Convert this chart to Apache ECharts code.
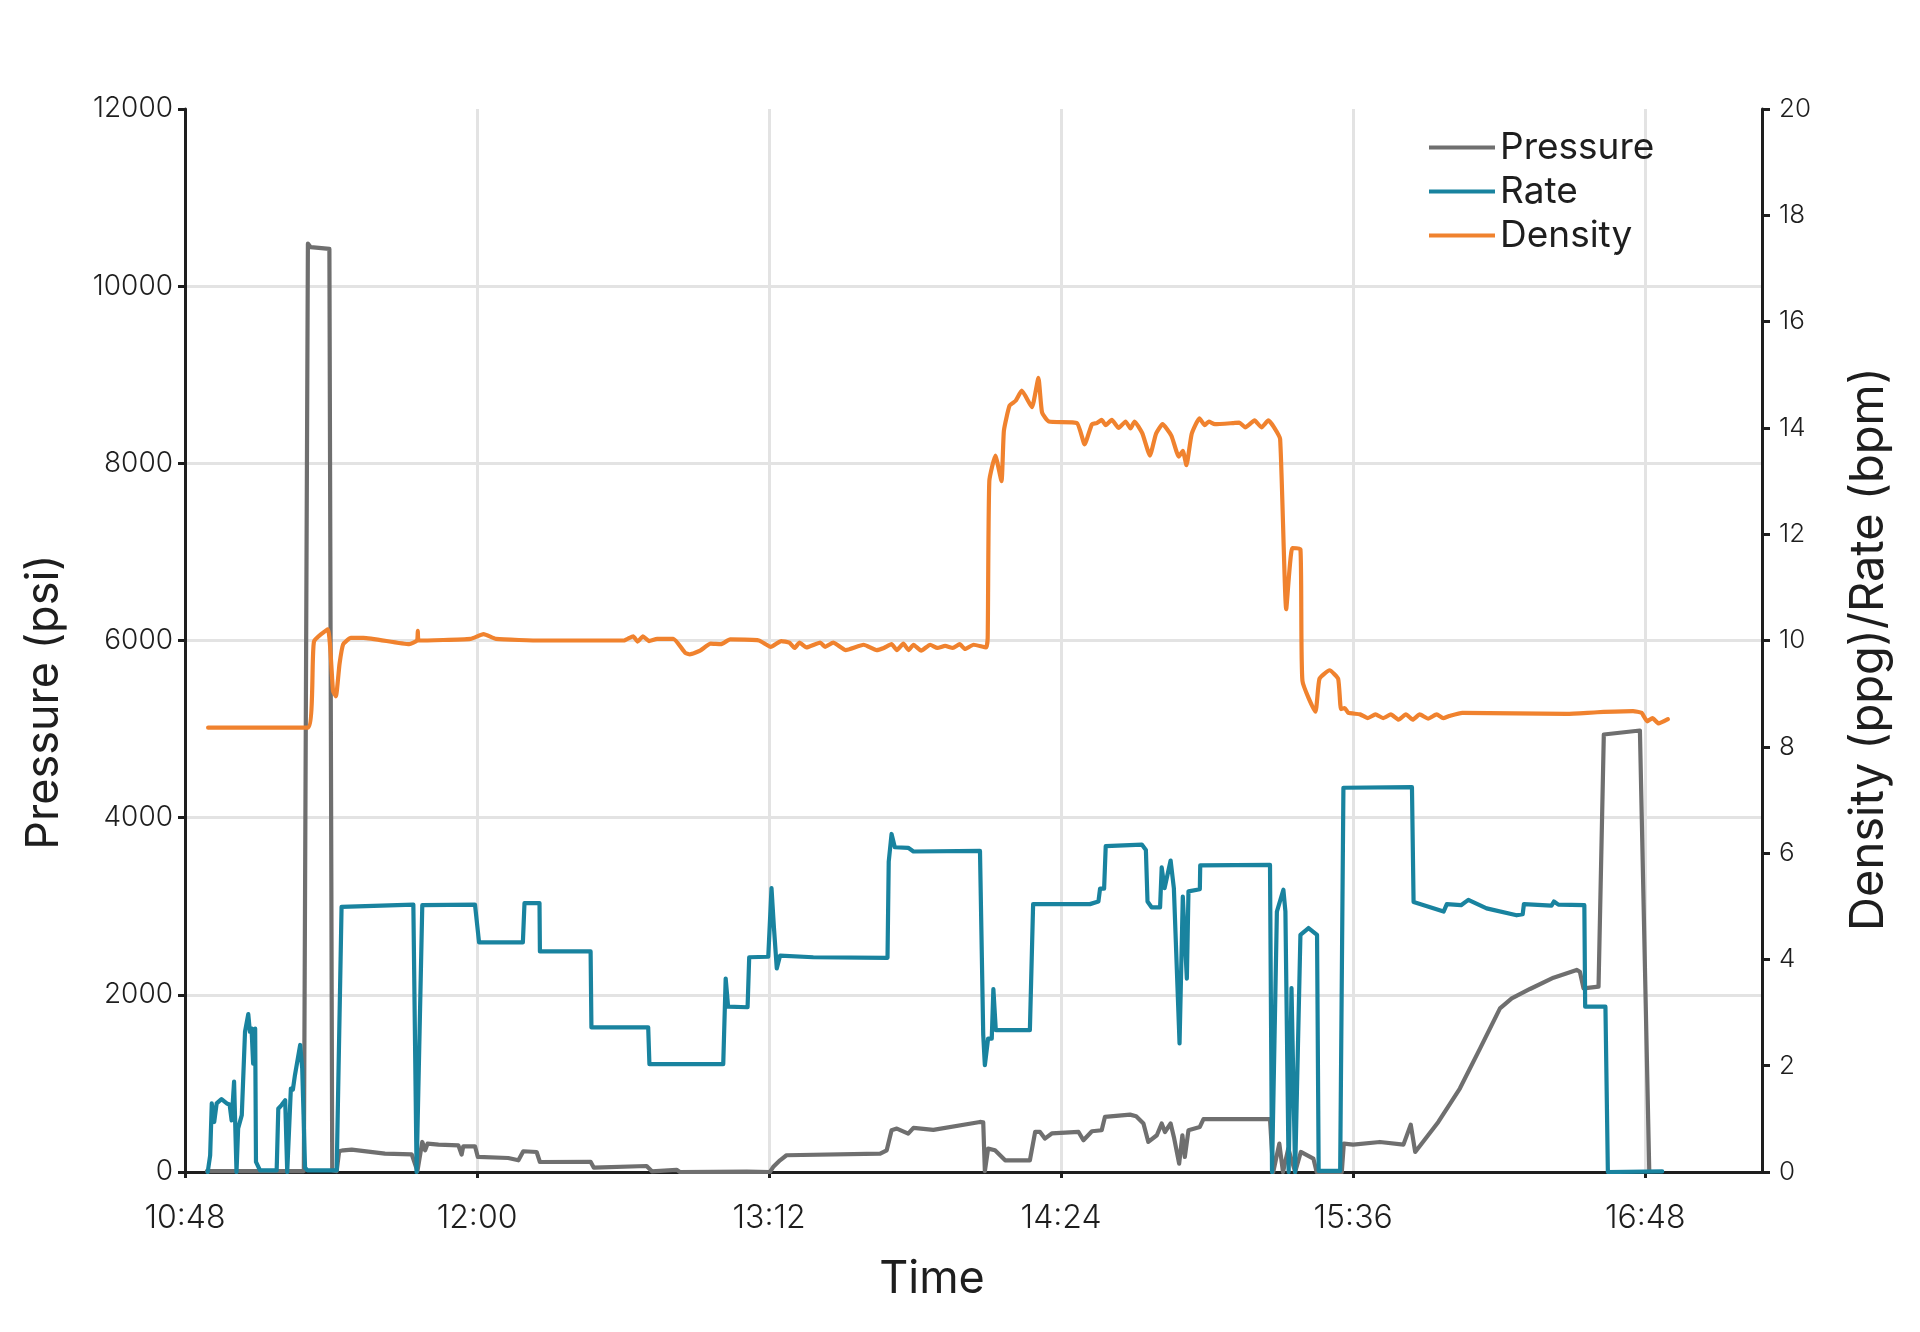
<!DOCTYPE html>
<html>
<head>
<meta charset="utf-8">
<script src="https://cdn.jsdelivr.net/npm/echarts@6/dist/echarts.min.js"></script>
<style>
  html, body { margin: 0; padding: 0; background: #ffffff; }
  #chart { width: 1920px; height: 1332px; }
</style>
</head>
<body>
<div id="chart"></div>
<script>
// time is in minutes after midnight (10:48 = 648)
const timeTicks = [648, 720, 792, 864, 936, 1008];

// pressure, psi (left axis)
const pressureData = [
  [653.4, 10], [677.3, 10], [678.3, 10480], [679.0, 10440], [683.6, 10420], [684.3, 20],
  [685.4, 10], [686.0, 234], [687.0, 245], [689.1, 253], [697.3, 207], [703.9, 199],
  [705.3, 10], [706.5, 339], [707.2, 245], [707.8, 320], [710.5, 309], [715.4, 301],
  [716.2, 196], [716.6, 290], [719.5, 290], [720.2, 170], [727.7, 158], [730.2, 132],
  [731.4, 234], [734.7, 226], [735.5, 113], [748.0, 115], [748.8, 49], [761.8, 68],
  [763.1, 8], [769.2, 25], [770.0, 0], [786.5, 5], [792.2, 0], [793.0, 56], [794.7, 132],
  [796.3, 189], [819.4, 207], [821.0, 245], [822.2, 471], [823.5, 490], [826.3, 433],
  [827.6, 498], [832.5, 475], [844.0, 565], [844.8, 560], [845.2, 10], [846.0, 264],
  [847.7, 245], [850.2, 132], [856.3, 132], [857.6, 452], [858.8, 452], [860.0, 377],
  [861.7, 435], [868.3, 452], [869.5, 358], [871.6, 460], [874.0, 471], [874.8, 622],
  [881.0, 648], [882.5, 630], [884.3, 547], [885.5, 339], [887.6, 415], [888.8, 547],
  [889.6, 452], [891.0, 547], [891.8, 396], [893.1, 94], [893.9, 415], [894.5, 170],
  [895.4, 471], [898.2, 509], [899.1, 596], [915.5, 596], [916.3, 0], [917.8, 320],
  [918.7, 0], [920.0, 264], [921.7, 0], [923.1, 226], [926.2, 151], [927.0, 0],
  [933.2, 0], [933.7, 320], [936.0, 309], [942.6, 339], [948.4, 309], [950.2, 535],
  [951.3, 226], [957.0, 565], [962.3, 942], [967.3, 1395], [972.2, 1847], [975.1, 1960],
  [979.6, 2066], [985.4, 2194], [991.1, 2281], [991.9, 2260], [992.8, 2073], [996.5, 2092],
  [997.8, 4939], [1006.7, 4984], [1009.0, 20]
];

// rate, bpm (right axis)
const rateData = [
  [653.6, 0], [654.2, 0.31], [654.6, 1.29], [655.2, 0.94], [655.8, 1.29], [657.0, 1.37],
  [658.3, 1.29], [659.0, 1.27], [659.5, 0.97], [660.1, 1.70], [660.7, 0], [661.1, 0.82],
  [662.0, 1.07], [662.8, 2.64], [663.6, 2.97], [664.0, 2.64], [664.4, 2.70], [664.8, 2.04],
  [665.3, 2.70], [665.5, 0.19], [666.5, 0.03], [670.6, 0.03], [671.0, 1.19], [671.8, 1.26],
  [672.7, 1.35], [673.2, 0], [674.1, 1.57], [674.6, 1.55], [675.1, 1.82], [676.4, 2.39],
  [676.9, 1.95], [677.6, 0.08], [678.2, 0.03], [685.4, 0.03], [686.6, 4.99], [704.3, 5.03],
  [705.1, 0], [706.5, 5.02], [719.5, 5.03], [720.5, 4.32], [731.3, 4.32], [731.7, 5.06],
  [735.4, 5.06], [735.5, 4.15], [748.0, 4.15], [748.2, 2.72], [762.2, 2.72], [762.5, 2.03],
  [780.7, 2.03], [781.3, 3.64], [781.9, 3.11], [786.7, 3.10], [787.1, 4.04], [791.8, 4.05],
  [792.6, 5.34], [793.2, 4.6], [793.9, 3.83], [794.7, 4.07], [802.9, 4.04], [821.2, 4.03],
  [821.5, 5.84], [822.2, 6.36], [823.0, 6.11], [826.3, 6.10], [827.6, 6.03], [844.0, 6.04],
  [844.4, 6.04], [844.8, 2.58], [845.2, 2.01], [846.0, 2.51], [846.9, 2.51], [847.3, 3.44],
  [847.9, 2.67], [856.3, 2.67], [857.1, 5.04], [871.1, 5.04], [873.2, 5.09], [873.6, 5.33],
  [874.6, 5.33], [875.0, 6.13], [883.9, 6.16], [884.9, 6.06], [885.3, 5.09], [886.3, 4.98],
  [888.4, 4.98], [888.8, 5.73], [889.5, 5.34], [891.0, 5.86], [891.8, 5.34], [893.2, 2.42],
  [894.0, 5.18], [895.0, 3.64], [895.4, 5.28], [898.2, 5.32], [898.3, 5.77], [915.5, 5.78],
  [916.0, 0], [917.2, 4.9], [918.8, 5.31], [919.3, 4.9], [920.1, 0], [920.8, 3.46],
  [921.7, 0], [923.0, 4.46], [925.0, 4.59], [927.1, 4.46], [927.5, 0.02], [932.8, 0.02],
  [933.6, 7.23], [950.5, 7.24], [950.9, 5.08], [958.3, 4.9], [959.1, 5.04], [962.6, 5.02],
  [964.4, 5.12], [968.9, 4.96], [976.3, 4.83], [977.8, 4.85], [978.1, 5.04], [984.9, 5.01],
  [985.5, 5.09], [986.6, 5.03], [993.0, 5.02], [993.2, 3.11], [998.2, 3.11], [998.8, 0],
  [1012.2, 0.01]
];

// density, ppg (right axis)
const densityData = [
  [653.7, 8.36], [678.2, 8.36], [679.8, 9.98], [683.2, 10.21], [684.5, 9.05], [685.2, 8.95],
  [686.1, 9.56], [687.0, 9.93], [688.9, 10.05], [692.0, 10.05], [703.3, 9.93], [705.2, 10.0],
  [705.4, 10.18], [705.6, 10.0], [718.4, 10.03], [721.6, 10.12], [724.7, 10.03], [736.0, 10.0],
  [756.2, 10.0], [758.5, 10.08], [759.6, 9.98], [760.9, 10.08], [762.4, 9.99], [764.4, 10.03],
  [768.4, 10.03], [771.3, 9.77], [772.5, 9.74], [775.0, 9.81], [777.6, 9.94], [780.1, 9.93],
  [782.4, 10.02], [789.5, 10.0], [792.4, 9.88], [795.0, 9.99], [797.0, 9.96], [798.3, 9.86],
  [799.5, 9.96], [801.2, 9.87], [804.6, 9.96], [805.8, 9.88], [807.8, 9.96], [810.9, 9.82],
  [815.3, 9.92], [818.5, 9.82], [820.3, 9.86], [822.2, 9.93], [823.5, 9.82], [825.1, 9.94],
  [826.4, 9.82], [827.6, 9.92], [829.5, 9.81], [831.7, 9.92], [833.5, 9.86], [835.4, 9.9],
  [837.3, 9.86], [839.0, 9.93], [840.3, 9.84], [842.4, 9.92], [845.5, 9.87], [845.9, 10.05],
  [846.3, 13.0], [847.8, 13.48], [849.3, 13.0], [849.9, 13.95], [851.3, 14.42], [852.8, 14.51],
  [854.3, 14.70], [856.8, 14.39], [858.4, 14.94], [859.3, 14.29], [861.0, 14.12], [867.9, 14.09],
  [869.8, 13.69], [871.6, 14.07], [872.8, 14.09], [874.0, 14.15], [875.0, 14.05], [876.5, 14.15],
  [878.2, 14.0], [879.9, 14.12], [881.1, 13.99], [882.1, 14.12], [884.0, 13.9], [885.9, 13.48],
  [887.4, 13.89], [889.0, 14.07], [891.2, 13.85], [893.0, 13.46], [894.0, 13.57], [894.9, 13.3],
  [896.2, 13.89], [898.1, 14.18], [899.4, 14.05], [900.4, 14.12], [901.9, 14.07], [906.3, 14.09],
  [907.9, 14.1], [909.4, 14.01], [911.7, 14.14], [913.4, 14.01], [915.1, 14.14], [916.5, 14.01],
  [918.0, 13.79], [919.5, 10.59], [921.0, 11.74], [923.0, 11.72], [923.5, 9.24], [926.7, 8.66],
  [927.7, 9.28], [930.2, 9.44], [932.3, 9.28], [933.0, 8.71], [933.9, 8.73], [934.8, 8.64],
  [937.7, 8.61], [939.6, 8.54], [941.5, 8.61], [943.4, 8.54], [945.3, 8.61], [947.2, 8.51],
  [949.0, 8.61], [950.7, 8.51], [952.4, 8.61], [954.5, 8.53], [956.6, 8.61], [958.2, 8.54],
  [959.7, 8.58], [962.9, 8.64], [988.7, 8.62], [996.2, 8.65], [1005.0, 8.67], [1007.1, 8.64],
  [1008.5, 8.48], [1009.8, 8.54], [1011.3, 8.44], [1013.6, 8.52]
];

const FONT = 'Inter, "Noto Sans", sans-serif';
const INK = '#1e1e1e';
const LINE_W = 4.2;

const fmtTime = (v) => {
  if (!timeTicks.includes(Math.round(v))) return '';
  const h = Math.floor(v / 60);
  const m = Math.round(v % 60);
  return h + ':' + (m < 10 ? '0' + m : m);
};

const chart = echarts.init(document.getElementById('chart'), null, {renderer: 'canvas'});

const option = {
  animation: false,
  backgroundColor: '#ffffff',
  grid: {
    left: 185,
    right: 158,
    top: 109,
    bottom: 160,
    containLabel: false
  },
  legend: {
    data: ['Pressure', 'Rate', 'Density'],
    orient: 'vertical',
    left: 1424,
    top: 124,
    icon: 'rect',
    itemWidth: 66,
    itemHeight: 4,
    itemGap: 7,
    textStyle: {
      fontFamily: FONT,
      fontSize: 37,
      lineHeight: 36,
      color: INK
    }
  },
  xAxis: [
    {
      type: 'value',
      min: 648,
      max: 1036.8,
      interval: 72,
      axisLine: {show: true, lineStyle: {color: INK, width: 3}},
      axisTick: {show: true, length: 6, lineStyle: {color: INK, width: 3}},
      axisLabel: {
        formatter: fmtTime,
        showMaxLabel: false,
        margin: 30,
        fontFamily: FONT,
        fontSize: 32,
        fontWeight: 300,
        color: INK
      },
      splitLine: {
        show: true,
        showMinLine: false,
        showMaxLine: false,
        lineStyle: {color: '#e3e3e3', width: 3}
      }
    },
    {
      // top border line of the plot box
      type: 'value',
      position: 'top',
      min: 648,
      max: 1036.8,
      axisLine: {show: true, lineStyle: {color: INK, width: 3}},
      axisTick: {show: false},
      axisLabel: {show: false},
      splitLine: {show: false}
    }
  ],
  yAxis: [
    {
      type: 'value',
      min: 0,
      max: 12000,
      interval: 2000,
      axisLine: {show: true, lineStyle: {color: INK, width: 3}},
      axisTick: {show: true, length: 7, lineStyle: {color: INK, width: 3}},
      axisLabel: {
        formatter: (v) => String(v),
        margin: 12,
        fontFamily: FONT,
        fontSize: 28,
        fontWeight: 300,
        color: INK
      },
      splitLine: {
        show: true,
        showMinLine: false,
        showMaxLine: false,
        lineStyle: {color: '#e3e3e3', width: 3}
      }
    },
    {
      type: 'value',
      position: 'right',
      min: 0,
      max: 20,
      interval: 2,
      axisLine: {show: true, lineStyle: {color: INK, width: 3}},
      axisTick: {show: true, length: 8, lineStyle: {color: INK, width: 3}},
      axisLabel: {
        margin: 17,
        fontFamily: FONT,
        fontSize: 26,
        fontWeight: 300,
        color: INK
      },
      splitLine: {show: false}
    }
  ],
  graphic: [
    {
      type: 'text',
      x: 44,
      y: 702,
      rotation: Math.PI / 2,
      style: {
        text: 'Pressure (psi)',
        fontFamily: FONT,
        fontSize: 45,
        fill: INK,
        textAlign: 'center',
        textVerticalAlign: 'middle'
      }
    },
    {
      type: 'text',
      x: 1869,
      y: 649,
      rotation: Math.PI / 2,
      style: {
        text: 'Density (ppg)/Rate (bpm)',
        fontFamily: FONT,
        fontSize: 47,
        fill: INK,
        textAlign: 'center',
        textVerticalAlign: 'middle'
      }
    },
    {
      type: 'text',
      x: 932,
      y: 1279,
      style: {
        text: 'Time',
        fontFamily: FONT,
        fontSize: 45,
        fill: INK,
        textAlign: 'center',
        textVerticalAlign: 'middle'
      }
    }
  ],
  series: [
    {
      name: 'Pressure',
      type: 'line',
      yAxisIndex: 0,
      showSymbol: false,
      data: pressureData,
      itemStyle: {color: '#6f6f6f'},
      lineStyle: {color: '#6f6f6f', width: LINE_W, join: 'round', cap: 'round'}
    },
    {
      name: 'Rate',
      type: 'line',
      yAxisIndex: 1,
      showSymbol: false,
      data: rateData,
      itemStyle: {color: '#19839f'},
      lineStyle: {color: '#19839f', width: LINE_W, join: 'round', cap: 'round'}
    },
    {
      name: 'Density',
      type: 'line',
      yAxisIndex: 1,
      showSymbol: false,
      smooth: 0.15,
      data: densityData,
      itemStyle: {color: '#f0822e'},
      lineStyle: {color: '#f0822e', width: LINE_W, join: 'round', cap: 'round'}
    }
  ]
};

option && chart.setOption(option);
</script>
</body>
</html>
